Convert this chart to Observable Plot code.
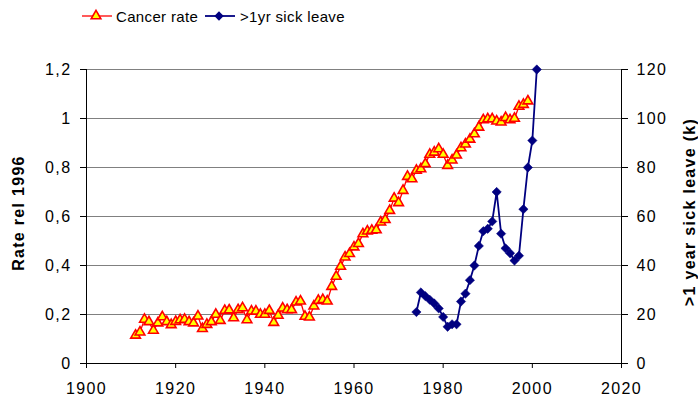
<!DOCTYPE html>
<html><head><meta charset="utf-8">
<script src="https://cdn.jsdelivr.net/npm/d3@7"></script>
<script src="https://cdn.jsdelivr.net/npm/@observablehq/plot@0.6"></script>
<style>
body{margin:0;background:#fff;font-family:"Liberation Sans",Arial,sans-serif;}
#wrap{position:relative;width:698px;height:404px;overflow:hidden;}
#wrap svg text{letter-spacing:1.4px;}
.ytitle{position:absolute;font-weight:bold;font-size:16px;letter-spacing:1.3px;white-space:nowrap;transform:translate(-50%,-50%) rotate(-90deg);}
#legend{position:absolute;left:0;top:0;}
</style></head><body>
<div id="wrap"></div>
<script>
// Cancer rate (relative to 1996), yearly 1911–1999
const cancerYears = [1911,1912,1913,1914,1915,1916,1917,1918,1919,1920,1921,1922,1923,1924,1925,1926,1927,1928,1929,1930,
  1931,1932,1933,1934,1935,1936,1937,1938,1939,1940,1941,1942,1943,1944,1945,1946,1947,1948,1949,1950,
  1951,1952,1953,1954,1955,1956,1957,1958,1959,1960,1961,1962,1963,1964,1965,1966,1967,1968,1969,1970,
  1971,1972,1973,1974,1975,1976,1977,1978,1979,1980,1981,1982,1983,1984,1985,1986,1987,1988,1989,1990,
  1991,1992,1993,1994,1995,1996,1997,1998,1999];
const cancerRate = [0.115,0.128,0.18,0.17,0.135,0.165,0.19,0.17,0.158,0.171,0.178,0.18,0.17,0.165,0.193,0.142,0.159,0.17,0.2,0.175,
  0.216,0.218,0.186,0.219,0.227,0.178,0.213,0.213,0.2,0.2,0.216,0.167,0.196,0.226,0.219,0.219,0.25,0.254,0.192,0.189,
  0.234,0.257,0.26,0.254,0.314,0.355,0.396,0.434,0.448,0.475,0.489,0.529,0.54,0.543,0.545,0.577,0.587,0.624,0.674,0.656,
  0.706,0.763,0.753,0.788,0.794,0.815,0.853,0.862,0.876,0.853,0.808,0.83,0.85,0.88,0.895,0.915,0.937,0.964,0.994,0.998,
  0.998,0.989,0.985,1.003,0.994,1.0,1.049,1.057,1.071];
// >1 year sick leave (thousands), 1974–2001
const sickYears = [1974,1975,1976,1977,1978,1979,1980,1981,1982,1983,1984,1985,1986,1987,1988,1989,1990,1991,1992,1993,1994,1995,1996,1997,1998,1999,2000,2001];
const sickLeave = [21,29,27.5,26,24.5,22.5,19,15,16,16,25.3,28.5,34,40,48,54,55,58,70,53,47,45,42,44,63,80,91,120];
// Axis ticks
const xTicks = [1900,1920,1940,1960,1980,2000,2020];
const yTicks = [0,0.2,0.4,0.6,0.8,1,1.2];
const yRightMax = 120; // right axis spans 0..120 (k) over same height as 0..1.2

const cancer = cancerYears.map((y,i)=>({year:y, rate:cancerRate[i]}));
const sick = sickYears.map((y,i)=>({year:y, k:sickLeave[i]}));
const kToY = k => k / yRightMax * 1.2;

const chart = Plot.plot({
  width: 698, height: 404,
  marginLeft: 86, marginRight: 77, marginTop: 69, marginBottom: 41,
  x: {domain: [1900, 2020]},
  y: {domain: [0, 1.2]},
  style: {fontFamily: "'Liberation Sans', Arial, sans-serif", fontSize: "16px", color: "#000", background: "#fff"},
  marks: [
    Plot.ruleY(yTicks.filter(d => d > 0), {stroke: "#808080", strokeWidth: 1.2}),
    Plot.axisX({ticks: xTicks, tickSize: 5, tickPadding: 14, tickFormat: d => String(d), label: null, fontSize: 16}),
    Plot.axisY({ticks: yTicks, tickSize: 6, tickPadding: 9, tickFormat: d => String(d).replace(".", ","), label: null, fontSize: 16}),
    Plot.axisY({anchor: "right", ticks: yTicks, tickSize: 6, tickPadding: 9, tickFormat: d => String(Math.round(d / 1.2 * yRightMax)), label: null, fontSize: 16}),
    Plot.ruleY([0], {stroke: "#000"}),
    Plot.ruleX([1900], {stroke: "#000"}),
    Plot.ruleX([2020], {stroke: "#000"}),
    Plot.line(cancer, {x: "year", y: "rate", stroke: "#FF0000", strokeWidth: 1.3}),
    Plot.dot(cancer, {x: "year", y: "rate", symbol: "triangle", fill: "#FFFF00", stroke: "#FF0000", strokeWidth: 1.6, r: 3.6}),
    Plot.line(sick, {x: "year", y: d => kToY(d.k), stroke: "#000080", strokeWidth: 1.8}),
    Plot.dot(sick, {x: "year", y: d => kToY(d.k), symbol: "diamond2", fill: "#000080", stroke: "#000080", strokeWidth: 0.5, r: 4.2})
  ]
});
const wrap = document.getElementById("wrap");
wrap.appendChild(chart);

// Axis titles
const lt = document.createElement("div");
lt.className = "ytitle"; lt.textContent = "Rate rel 1996";
lt.style.left = "19px"; lt.style.top = "213px";
wrap.appendChild(lt);
const rt = document.createElement("div");
rt.className = "ytitle"; rt.textContent = ">1 year sick leave (k)";
rt.style.left = "690px"; rt.style.top = "212px";
wrap.appendChild(rt);

// Legend
const ns = "http://www.w3.org/2000/svg";
const lg = document.createElementNS(ns, "svg");
lg.setAttribute("id", "legend"); lg.setAttribute("width", 400); lg.setAttribute("height", 34);
lg.innerHTML = `
  <line x1="82" y1="16" x2="112" y2="16" stroke="#FF0000" stroke-width="1.3"/>
  <path d="${d3.symbol(d3.symbolTriangle, Math.PI*3.6*3.6)()}" transform="translate(96,16)" fill="#FFFF00" stroke="#FF0000" stroke-width="1.6"/>
  <text x="116" y="21.5" font-size="15" style="letter-spacing:0.35px" fill="#000">Cancer rate</text>
  <line x1="205" y1="16" x2="235" y2="16" stroke="#000080" stroke-width="1.8"/>
  <path d="${d3.symbol(d3.symbolDiamond2, Math.PI*4.2*4.2)()}" transform="translate(219,16)" fill="#000080"/>
  <text x="240" y="21.5" font-size="15" style="letter-spacing:0.35px" fill="#000">&gt;1yr sick leave</text>`;
wrap.appendChild(lg);
</script>
</body></html>
